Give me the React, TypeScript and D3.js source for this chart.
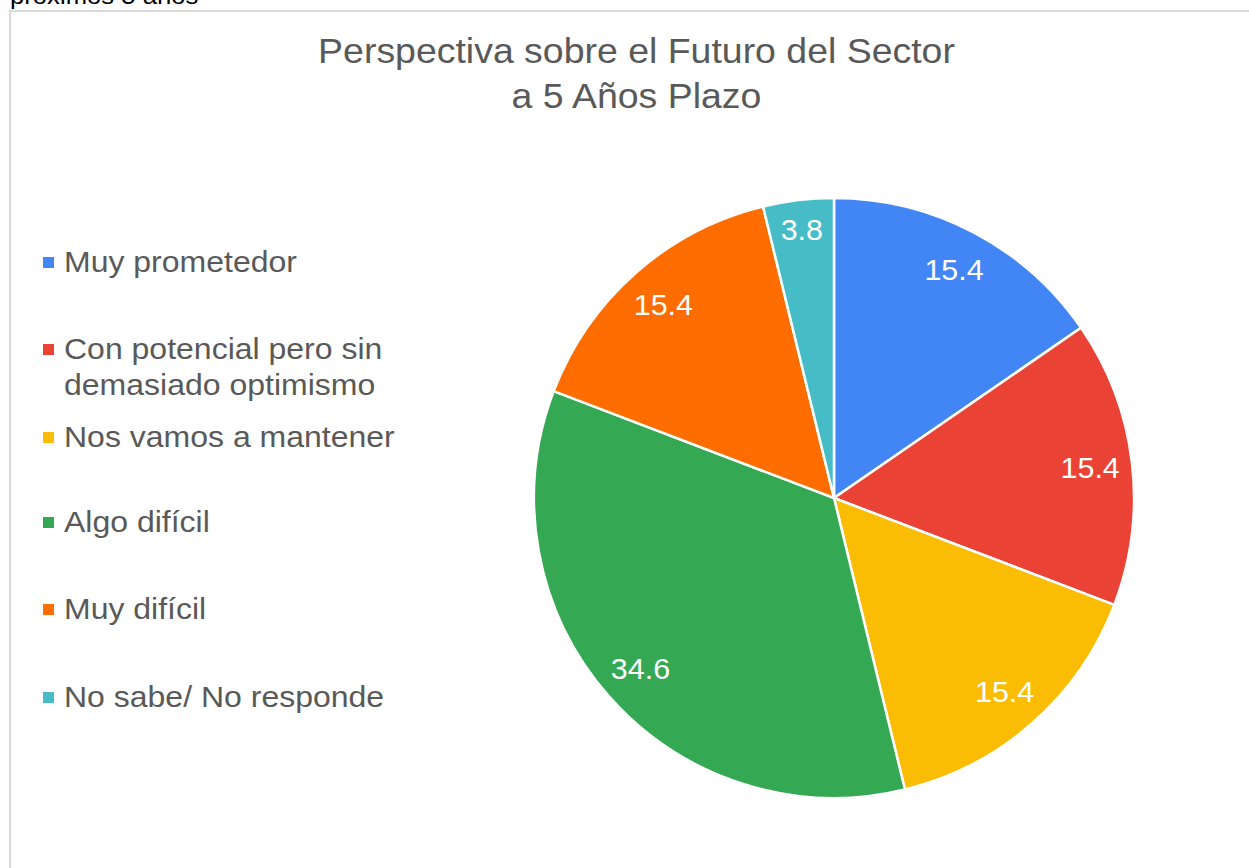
import { arc, pie } from "d3";
import type { PieArcDatum } from "d3";

const W = 1249;
const H = 868;

const categories = [
  "Muy prometedor",
  "Con potencial pero sin demasiado optimismo",
  "Nos vamos a mantener",
  "Algo difícil",
  "Muy difícil",
  "No sabe/ No responde",
];
const values = [15.4, 15.4, 15.4, 34.6, 15.4, 3.8];
const colors = ["#4285f4", "#ea4335", "#fbbc04", "#34a853", "#ff6d01", "#46bdc6"];
// legend text broken in lines the way the sheet wraps it
const legendLines = [
  ["Muy prometedor"],
  ["Con potencial pero sin", "demasiado optimismo"],
  ["Nos vamos a mantener"],
  ["Algo difícil"],
  ["Muy difícil"],
  ["No sabe/ No responde"],
];
const titleLines = ["Perspectiva sobre el Futuro del Sector", "a 5 Años Plazo"];

const CX = 834;
const CY = 498;
const R = 300;
const TEXT = "#595959";
const FONT = "Arial, 'Liberation Sans', sans-serif";
// sheet rendering is a little wider than plain Arial
const SX = 1.07;
const LEGEND_SX = 1.085;
const legendBaselines = [272, 359, 447, 532, 619, 707];

type Slice = { name: string; value: number; color: string };

export default function App() {
  const data: Slice[] = categories.map((name, i) => ({ name, value: values[i], color: colors[i] }));
  const slices = pie<Slice>().sort(null).value((d) => d.value)(data);
  const arcGen = arc<PieArcDatum<Slice>>().innerRadius(0).outerRadius(R);

  const labelPos = (d: PieArcDatum<Slice>) => {
    const span = d.endAngle - d.startAngle;
    const r = span < 0.3 ? R * 0.9 : R * 0.86;
    return arc<PieArcDatum<Slice>>().innerRadius(r).outerRadius(r).centroid(d);
  };

  return (
    <svg
      width={W}
      height={H}
      viewBox={`0 0 ${W} ${H}`}
      style={{ position: "absolute", left: 0, top: 0, background: "#fff" }}
      fontFamily={FONT}
    >
      <text transform={`translate(10,4) scale(${SX},1)`} fontSize={24} fill="#000">
        próximos 5 años
      </text>
      <path d={`M10,${H} V11 H${W}`} fill="none" stroke="#dadada" strokeWidth={2} />

      {titleLines.map((t, i) => (
        <text
          key={t}
          transform={`translate(636.5,${62.5 + i * 45}) scale(${SX},1)`}
          textAnchor="middle"
          fontSize={35}
          fill={TEXT}
        >
          {t}
        </text>
      ))}

      {legendLines.map((lines, i) => (
        <g key={categories[i]}>
          <rect x={43} y={legendBaselines[i] - 15} width={11} height={11} fill={colors[i]} />
          {lines.map((l, j) => (
            <text
              key={l}
              transform={`translate(64,${legendBaselines[i] + j * 36}) scale(${LEGEND_SX},1)`}
              fontSize={29.5}
              fill={TEXT}
            >
              {l}
            </text>
          ))}
        </g>
      ))}

      <g transform={`translate(${CX},${CY})`}>
        {slices.map((d) => (
          <path key={d.data.name} d={arcGen(d) ?? ""} fill={d.data.color} stroke="#fff" strokeWidth={2.5} />
        ))}
        {slices.map((d) => {
          const [x, y] = labelPos(d);
          return (
            <text
              key={`l-${d.data.name}`}
              transform={`translate(${x},${y}) scale(1.05,1)`}
              textAnchor="middle"
              dy="0.36em"
              fontSize={29}
              fill="#fff"
            >
              {d.data.value.toFixed(1)}
            </text>
          );
        })}
      </g>
    </svg>
  );
}
